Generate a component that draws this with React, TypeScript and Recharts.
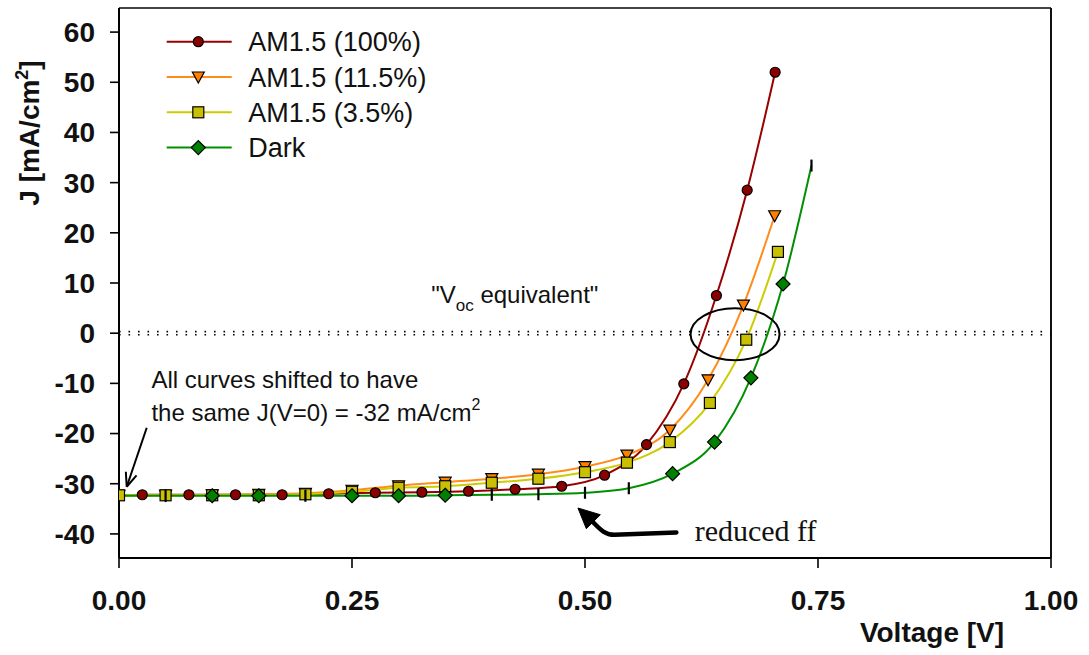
import React from 'react';
import { LineChart, Line, XAxis, YAxis, ReferenceLine, ReferenceDot, Legend } from 'recharts';

// ---------- data ----------
const redV = [0, 0.025, 0.075, 0.125, 0.175, 0.225, 0.275, 0.325, 0.375, 0.425, 0.475, 0.521, 0.566, 0.606, 0.641, 0.674, 0.704];
const redJ = [-32.3, -32.2, -32.2, -32.2, -32.2, -32.0, -31.8, -31.7, -31.5, -31.1, -30.5, -28.3, -22.2, -10.1, 7.5, 28.5, 52.0];

const orangeV = [0, 0.05, 0.1, 0.15, 0.2, 0.25, 0.3, 0.35, 0.4, 0.45, 0.5, 0.545, 0.591, 0.632, 0.67, 0.7035];
const orangeJ = [-32.3, -32.3, -32.2, -32.1, -31.9, -31.3, -30.4, -29.7, -29.0, -28.1, -26.6, -24.3, -19.3, -9.3, 5.6, 23.4];

const yellowV = [0, 0.05, 0.1, 0.15, 0.2, 0.25, 0.3, 0.35, 0.4, 0.45, 0.5, 0.545, 0.591, 0.634, 0.673, 0.707];
const yellowJ = [-32.3, -32.3, -32.3, -32.3, -32.1, -31.6, -30.8, -30.5, -29.8, -29.0, -27.7, -25.8, -21.7, -13.9, -1.3, 16.2];

const darkV = [0, 0.05, 0.1, 0.15, 0.2, 0.25, 0.3, 0.35, 0.4, 0.45, 0.5, 0.547, 0.594, 0.639, 0.678, 0.7125, 0.743];
const darkJ = [-32.4, -32.4, -32.4, -32.4, -32.4, -32.4, -32.4, -32.3, -32.2, -32.1, -31.8, -30.9, -28.0, -21.7, -8.9, 9.8, 33.4];
const darkMarks = ['n', '|', 'd', 'd', '|', 'd', 'd', 'd', '|', '|', '|', '|', 'd', 'd', 'd', 'd', '|'];

const xTicks = [0, 0.25, 0.5, 0.75, 1];
const yTicks = [-40, -30, -20, -10, 0, 10, 20, 30, 40, 50, 60];
const xDomain = [0, 1];
const yDomain = [-44.8, 64.8];

const seriesNames = ['AM1.5 (100%)', 'AM1.5 (11.5%)', 'AM1.5 (3.5%)', 'Dark'];

// ---------- styles ----------
const SANS = "'Liberation Sans', Arial, Helvetica, sans-serif";
const SERIF = "'Liberation Serif', 'Times New Roman', serif";
const RED_LINE = '#990000';
const RED_FILL = '#8b0000';
const ORANGE_LINE = '#ff8c1a';
const ORANGE_FILL = '#ff8000';
const YELLOW_LINE = '#cccc00';
const YELLOW_FILL = '#c8c000';
const GREEN_LINE = '#009000';
const GREEN_FILL = '#008000';

const toPoints = (vs: number[], js: number[], marks?: string[]) =>
  vs.map((v, i) => ({ v, j: js[i], m: marks ? marks[i] : 'x' }));

const redData = toPoints(redV, redJ);
const orangeData = toPoints(orangeV, orangeJ);
const yellowData = toPoints(yellowV, yellowJ);
const darkData = toPoints(darkV, darkJ, darkMarks);

// ---------- markers ----------
const Marker = ({ kind, cx, cy, fill }: { kind: string; cx: number; cy: number; fill: string }) => {
  if (kind === 'circle') return <circle cx={cx} cy={cy} r={5} fill={fill} stroke="#000" strokeWidth={1.2} />;
  if (kind === 'tri')
    return (
      <polygon
        points={`${cx - 6},${cy - 5} ${cx + 6},${cy - 5} ${cx},${cy + 6}`}
        fill={fill}
        stroke="#000"
        strokeWidth={1.2}
      />
    );
  if (kind === 'square')
    return <rect x={cx - 5.5} y={cy - 5.5} width={11} height={11} fill={fill} stroke="#000" strokeWidth={1.2} />;
  if (kind === 'diamond')
    return (
      <polygon
        points={`${cx},${cy - 7} ${cx + 7},${cy} ${cx},${cy + 7} ${cx - 7},${cy}`}
        fill={fill}
        stroke="#000"
        strokeWidth={1.2}
      />
    );
  if (kind === 'bar') return <line x1={cx} y1={cy - 6} x2={cx} y2={cy + 6} stroke="#000" strokeWidth={2.2} />;
  return <g />;
};

const makeDot = (kind: string, fill: string) => (props: any) => {
  const { cx, cy, index, payload } = props;
  if (cx == null || cy == null) return <g key={`d-${index}`} />;
  let k = kind;
  if (payload && payload.m === '|') k = 'bar';
  if (payload && payload.m === 'n') k = 'none';
  return (
    <g key={`d-${kind}-${index}`}>
      <Marker kind={k} cx={cx} cy={cy} fill={fill} />
    </g>
  );
};

const legendItems = [
  { name: seriesNames[0], line: RED_LINE, fill: RED_FILL, kind: 'circle' },
  { name: seriesNames[1], line: ORANGE_LINE, fill: ORANGE_FILL, kind: 'tri' },
  { name: seriesNames[2], line: YELLOW_LINE, fill: YELLOW_FILL, kind: 'square' },
  { name: seriesNames[3], line: GREEN_LINE, fill: GREEN_FILL, kind: 'diamond' },
];

const renderLegend = () => (
  <svg width={320} height={150} style={{ overflow: 'visible' }}>
    {legendItems.map((it, i) => {
      const y = 14.7 + i * 35.3;
      return (
        <g key={it.name}>
          <line x1={6.7} y1={y} x2={71.7} y2={y} stroke={it.line} strokeWidth={2} />
          <Marker kind={it.kind} cx={38.3} cy={y} fill={it.fill} />
          <text x={88.3} y={y + 9.6} fontFamily={SANS} fontSize={27} fill="#111">
            {it.name}
          </text>
        </g>
      );
    })}
  </svg>
);

// ---------- annotation shapes ----------
const ZeroLine = (p: any) => {
  const { x1, x2, y1 } = p;
  if (x1 == null) return <g />;
  return (
    <g>
      <line x1={x1} x2={x2} y1={y1 - 1.6} y2={y1 - 1.6} stroke="#000" strokeWidth={1.6} strokeDasharray="1.6 7.9" />
      <line x1={x1} x2={x2} y1={y1 + 1.6} y2={y1 + 1.6} stroke="#000" strokeWidth={1.6} strokeDasharray="1.6 7.9" />
    </g>
  );
};

const VocLabel = (p: any) => (
  <text x={p.cx} y={p.cy} fontFamily={SANS} fontSize={24} fill="#111">
    "V<tspan dy={8} fontSize={17}>oc</tspan>
    <tspan dy={-8}> equivalent"</tspan>
  </text>
);

const VocEllipse = (p: any) => (
  <ellipse cx={p.cx} cy={p.cy} rx={44.5} ry={26} fill="none" stroke="#000" strokeWidth={2} />
);

const ShiftLabel = (p: any) => (
  <text fontFamily={SANS} fontSize={24} fill="#111">
    <tspan x={p.cx} y={p.cy}>All curves shifted to have</tspan>
    <tspan x={p.cx} y={p.cy + 33.6}>the same J(V=0) = -32 mA/cm</tspan>
    <tspan dy={-11} fontSize={16}>2</tspan>
  </text>
);

const ShiftArrow = (p: any) => {
  const { cx, cy } = p;
  return (
    <g stroke="#000" strokeWidth={2} fill="none">
      <line x1={cx + 20} y1={cy - 59} x2={cx} y2={cy} />
      <line x1={cx} y1={cy} x2={cx + 9.8} y2={cy - 11.4} />
      <line x1={cx} y1={cy} x2={cx - 0.9} y2={cy - 15} />
    </g>
  );
};

const FfLabel = (p: any) => (
  <text x={p.cx} y={p.cy} fontFamily={SERIF} fontSize={30} fill="#111">
    reduced ff
  </text>
);

const FfArrow = (p: any) => {
  const { cx, cy } = p;
  return (
    <g>
      <path
        d={`M ${cx} ${cy} L ${cx - 62} ${cy + 2.4} C ${cx - 72} ${cy + 2.4}, ${cx - 77} ${cy - 4}, ${cx - 84} ${cy - 11}`}
        stroke="#000"
        strokeWidth={4.5}
        fill="none"
        strokeLinecap="round"
      />
      <polygon
        points={`${cx - 98.4},${cy - 24.4} ${cx - 90},${cy - 3.7} ${cx - 76},${cy - 17.7}`}
        fill="#000"
        stroke="#000"
        strokeWidth={1}
      />
    </g>
  );
};

const YTitle = () => (
  <text
    x={39}
    y={133}
    transform="rotate(-90, 39, 133)"
    textAnchor="middle"
    fontFamily={SANS}
    fontSize={28}
    fontWeight="bold"
    fill="#111"
  >
    J [mA/cm<tspan dy={-11} fontSize={18}>2</tspan>
    <tspan dy={11}>]</tspan>
  </text>
);

const XTitle = () => (
  <text x={932} y={642} textAnchor="middle" fontFamily={SANS} fontSize={28} fontWeight="bold" fill="#111">
    Voltage [V]
  </text>
);

const tickStyle = { fill: '#111', fontSize: 28, fontWeight: 'bold', fontFamily: SANS };

export default function App() {
  return (
    <div style={{ position: 'absolute', left: 0, top: 0, background: '#fff' }}>
      <LineChart width={1089} height={655} margin={{ top: 8, right: 38, left: 59, bottom: 57 }}>
        <XAxis
          type="number"
          dataKey="v"
          domain={xDomain}
          ticks={xTicks}
          interval={0}
          allowDataOverflow
          tickFormatter={(v: number) => v.toFixed(2)}
          height={40}
          tickSize={10}
          tickMargin={22}
          axisLine={{ stroke: '#000', strokeWidth: 2 }}
          tickLine={{ stroke: '#000', strokeWidth: 1.6 }}
          tick={tickStyle}
          label={{ content: () => <XTitle /> }}
        />
        <YAxis
          type="number"
          dataKey="j"
          domain={yDomain}
          ticks={yTicks}
          interval={0}
          allowDataOverflow
          width={60}
          tickSize={9}
          tickMargin={15}
          axisLine={{ stroke: '#000', strokeWidth: 2 }}
          tickLine={{ stroke: '#000', strokeWidth: 1.6 }}
          tick={tickStyle}
          label={{ content: () => <YTitle /> }}
        />
        <ReferenceLine y={yDomain[1]} stroke="#444" strokeWidth={2} ifOverflow="visible" />
        <ReferenceLine x={xDomain[1]} stroke="#111" strokeWidth={2} ifOverflow="visible" />
        <ReferenceLine y={0} stroke="#000" shape={ZeroLine} />

        <Line
          data={redData}
          dataKey="j"
          name={seriesNames[0]}
          type="monotone"
          stroke={RED_LINE}
          strokeWidth={2}
          dot={makeDot('circle', RED_FILL)}
          activeDot={false}
          isAnimationActive={false}
        />
        <Line
          data={orangeData}
          dataKey="j"
          name={seriesNames[1]}
          type="monotone"
          stroke={ORANGE_LINE}
          strokeWidth={2}
          dot={makeDot('tri', ORANGE_FILL)}
          activeDot={false}
          isAnimationActive={false}
        />
        <Line
          data={yellowData}
          dataKey="j"
          name={seriesNames[2]}
          type="monotone"
          stroke={YELLOW_LINE}
          strokeWidth={2}
          dot={makeDot('square', YELLOW_FILL)}
          activeDot={false}
          isAnimationActive={false}
        />
        <Line
          data={darkData}
          dataKey="j"
          name={seriesNames[3]}
          type="monotone"
          stroke={GREEN_LINE}
          strokeWidth={2}
          dot={makeDot('diamond', GREEN_FILL)}
          activeDot={false}
          isAnimationActive={false}
        />

        <ReferenceDot x={0.661} y={-0.2} shape={VocEllipse} />
        <ReferenceDot x={0.335} y={6.0} shape={VocLabel} />
        <ReferenceDot x={0.0348} y={-10.86} shape={ShiftLabel} />
        <ReferenceDot x={0.0083} y={-30.6} shape={ShiftArrow} />
        <ReferenceDot x={0.6177} y={-41.4} shape={FfLabel} />
        <ReferenceDot x={0.598} y={-39.7} shape={FfArrow} />

        <Legend
          layout="horizontal"
          verticalAlign="middle"
          align="center"
          content={renderLegend}
          wrapperStyle={{ position: 'absolute', left: 160, top: 27, width: 320, height: 150 }}
        />
      </LineChart>
    </div>
  );
}
